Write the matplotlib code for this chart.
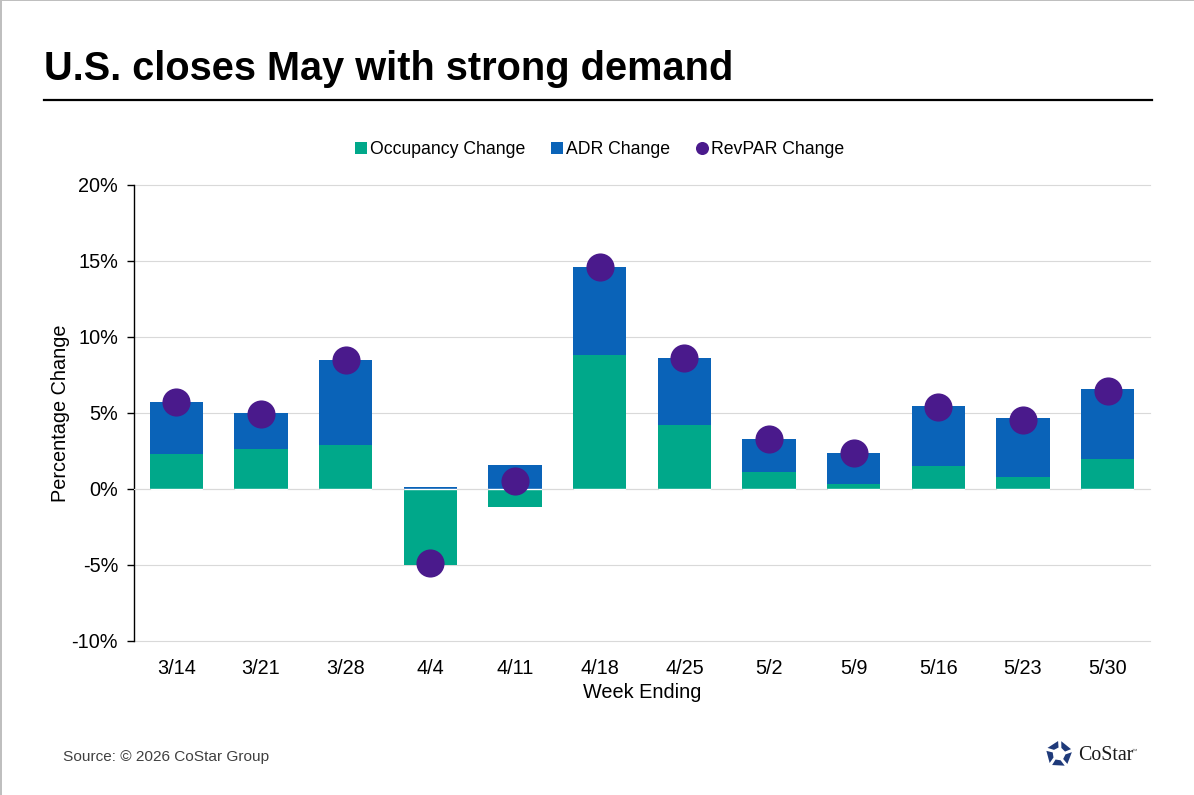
import matplotlib
matplotlib.use("Agg")
import matplotlib.pyplot as plt
from matplotlib.lines import Line2D
from matplotlib.patches import Rectangle, Polygon
from matplotlib.ticker import FuncFormatter
import numpy as np

weeks = ["3/14","3/21","3/28","4/4","4/11","4/18","4/25","5/2","5/9","5/16","5/23","5/30"]
occupancy = [2.3,2.6,2.9,-5.0,-1.2,8.8,4.2,1.1,0.3,1.5,0.8,2.0]
adr = [3.4,2.4,5.6,0.1,1.6,5.8,4.45,2.2,2.1,3.95,3.85,4.55]
revpar = [5.7,4.95,8.5,-4.9,0.55,14.6,8.6,3.3,2.4,5.4,4.55,6.45]
yticks = [-10,-5,0,5,10,15,20]

GREEN="#00A88A"; BLUE="#0A63B8"; PURPLE="#4A1A8C"
plt.rcParams['font.family']=['Liberation Sans','DejaVu Sans']
W,H=1194,795
fig=plt.figure(figsize=(W/100,H/100),dpi=100,facecolor='white')
ax=fig.add_axes([134/W,1-641/H,(1150-134)/W,(641-185)/H])
x=np.arange(len(weeks))
occ=np.array(occupancy); a=np.array(adr)
ax.set_axisbelow(True)
ax.bar(x,occ,width=0.63,color=GREEN,zorder=2)
ax.bar(x,a,width=0.63,bottom=np.maximum(occ,0),color=BLUE,zorder=2)
ax.axhline(0,color='white',lw=1,zorder=2.5)
# grey zero line between bars, white across them
for i in range(len(x)-1):
    ax.plot([x[i]+0.315,x[i+1]-0.315],[0,0],color='#D9D9D9',lw=0.8,zorder=2.6)
ax.plot([-0.5,x[0]-0.315],[0,0],color='#D9D9D9',lw=0.8,zorder=2.6)
ax.plot([x[-1]+0.315,x[-1]+0.5],[0,0],color='#D9D9D9',lw=0.8,zorder=2.6)
ax.scatter(x,revpar,s=410,color=PURPLE,zorder=3,linewidths=0,clip_on=False)
ax.set_xlim(-0.5,len(x)-0.5); ax.set_ylim(-10,20)
ax.set_yticks(yticks)
ax.yaxis.grid(True,color='#D9D9D9',lw=0.8)
for gl in ax.get_ygridlines(): gl.set_clip_on(False)
ax.yaxis.set_major_formatter(FuncFormatter(lambda v,_:f"{int(v)}%"))
ax.set_xticks(x); ax.set_xticklabels(weeks)
ax.tick_params(axis='x',length=0,pad=13,labelsize=14.3,colors='black')
ax.tick_params(axis='y',length=5,width=1,pad=6.5,labelsize=14.3,colors='black')
for s in ['top','right','bottom']: ax.spines[s].set_visible(False)
ax.spines['left'].set_color('black'); ax.spines['left'].set_linewidth(1)
ax.set_xlabel("Week Ending",fontsize=14.3,labelpad=3.3)
ax.set_ylabel("Percentage Change",fontsize=14.3,labelpad=1.2)

handles=[Line2D([],[],ls='',marker='s',ms=8,mew=0,color=GREEN),
         Line2D([],[],ls='',marker='s',ms=8,mew=0,color=BLUE),
         Line2D([],[],ls='',marker='o',ms=9.4,mew=0,color=PURPLE)]
fig.legend(handles,["Occupancy Change","ADR Change","RevPAR Change"],loc='center left',
           bbox_to_anchor=(357.5/W,1-149.5/H),ncol=3,frameon=False,fontsize=12.7,
           handlelength=0.4,handletextpad=0.31,columnspacing=1.62,borderpad=0,borderaxespad=0)

fig.text(44/W,1-69/H,"U.S. closes May with strong demand",fontsize=28.63,fontweight='bold',va='center',ha='left')
fig.add_artist(Line2D([44/W,1152/W],[1-100/H]*2,color='black',lw=1.6))
fig.text(63/W,1-757.5/H,"Source: © 2026 CoStar Group",fontsize=11.05,color='#404040',va='center')
fig.add_artist(Rectangle((0,0),2/W,1,transform=fig.transFigure,color='#BFBFBF',lw=0))
fig.add_artist(Rectangle((0,1-1/H),1,1/H,transform=fig.transFigure,color='#BFBFBF',lw=0))

# logo
NAVY="#1F3A7A"
cx,cy=1059,754
for k in range(5):
    t0=np.deg2rad(90+72*k+4); t1=np.deg2rad(90+72*k+62)
    r0,r1=13,6.5
    pts=[(cx+r1*np.cos(t0),cy-r1*np.sin(t0)),(cx+r0*np.cos(t0),cy-r0*np.sin(t0)),
         (cx+r0*np.cos(t1),cy-r0*np.sin(t1)),(cx+r1*np.cos(t1-0.2),cy-r1*np.sin(t1-0.2))]
    fig.add_artist(Polygon([(px/W,1-py/H) for px,py in pts],closed=True,transform=fig.transFigure,color=NAVY,lw=0))
fig.text(1078/W,1-755.5/H,"CoStar",family=['Liberation Serif'],fontsize=14.3,color='#1a1a1a',va='center')
fig.text(1132/W,1-751/H,"™",fontsize=4,color='#555555',va='center')
fig.savefig("out.png",dpi=100)
